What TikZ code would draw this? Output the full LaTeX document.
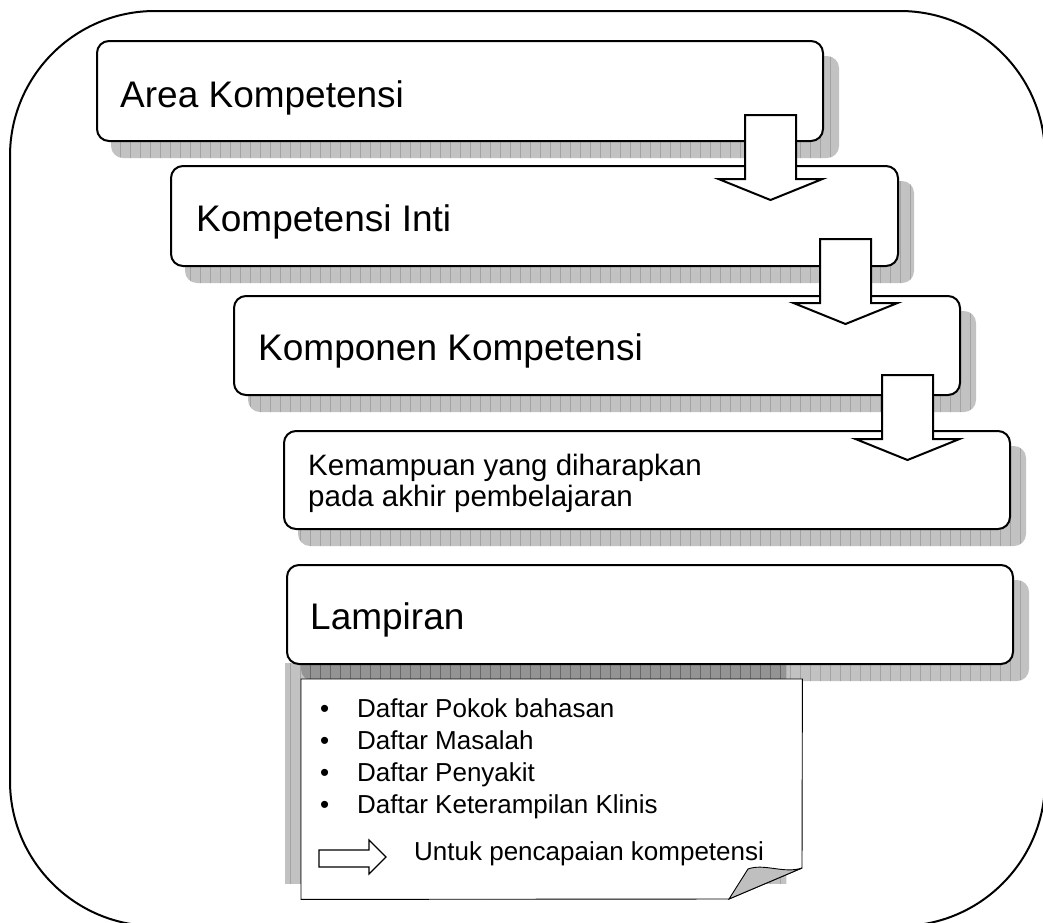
\documentclass[tikz,border=0pt]{standalone}
\usepackage{fontspec}
\setmainfont{Liberation Sans}
\usetikzlibrary{backgrounds}
\tikzset{
  box/.style={draw=black, line width=2pt, fill=white, rounded corners=12pt, inner sep=0pt, anchor=north west},
  bigtext/.style={inner sep=0pt, anchor=base west, font=\fontsize{37}{44}\selectfont},
  midtext/.style={inner sep=0pt, anchor=base west, font=\fontsize{29.5}{36}\selectfont},
  smalltext/.style={inner sep=0pt, anchor=base west, font=\fontsize{26}{31}\selectfont},
  blockarrow/.style={draw=black, line width=2pt, fill=white, line join=miter},
  gridlines/.style={draw=black, draw opacity=0.16, line width=0.9pt}
}
\newcommand\shadowof[4]{% node, dx, dy, radius
  \begin{scope}
    \clip[rounded corners=#4] ([shift={(#2,#3)}]#1.north west) rectangle ([shift={(#2,#3)}]#1.south east);
    \fill[black, fill opacity=0.24] (0,0) rectangle (1043,922);
    \draw[gridlines, step=10] (0,0) grid (1043,922);
  \end{scope}}
\newcommand\blockdown[2]{%
  \draw[blockarrow, shift={(#1,#2)}] (-25.5,0) -- (25.5,0) -- (25.5,64) -- (52,64) -- (0,85) -- (-52,64) -- (-25.5,64) -- cycle;}
\begin{document}
\begin{tikzpicture}[x=1pt,y=-1pt]
\useasboundingbox (0,0) rectangle (1043,922);
\begin{scope}
  \clip (0,0) rectangle (1043,922);
  \draw[line width=2pt, rounded corners=145pt] (10,11) rectangle (1045,926);
\end{scope}

% boxes
\node[box, minimum width=726pt, minimum height=100pt] (b1) at (96,40) {};
\node[box, minimum width=727pt, minimum height=100pt] (b2) at (170,165) {};
\node[box, minimum width=726pt, minimum height=99pt] (b3) at (233,295) {};
\node[box, minimum width=726pt, minimum height=98pt] (b4) at (283,430) {};
\node[box, minimum width=726pt, minimum height=99pt] (b5) at (286,564) {};

% note
\node[inner sep=0pt, minimum width=501pt, minimum height=220pt, anchor=north west] (note) at (301,679) {};
\draw[line width=0.9pt, fill=white] (note.north west) -- (note.north east) -- (802,868) -- (729,899) -- (note.south west) -- cycle;
\draw[line width=0.9pt, fill=black!25] (729,899) -- (748,869) .. controls (764,863) and (784,874) .. (802,868) -- cycle;

\begin{scope}[on background layer]
  \shadowof{b1}{15}{16}{12pt}
  \shadowof{b2}{15}{16}{12pt}
  \shadowof{b3}{15}{16}{12pt}
  \shadowof{b4}{15}{16}{12pt}
  \shadowof{b5}{15}{16}{12pt}
  \shadowof{note}{-16}{-16}{0pt}
\end{scope}

% texts
\node[bigtext] (t1) at (120,107) {Area Kompetensi};
\node[bigtext] (t2) at (196,231) {Kompetensi Inti};
\node[bigtext] (t3) at (258,360) {Komponen Kompetensi};
\node[midtext] (t4a) at (308,475) {Kemampuan yang diharapkan};
\node[midtext] (t4b) at (308,506) {pada akhir pembelajaran};
\node[bigtext] (t5) at (310,629) {Lampiran};

\foreach \y/\txt [count=\i] in {717/Daftar Pokok bahasan, 749/Daftar Masalah, 781/Daftar Penyakit, 813/Daftar Keterampilan Klinis}{
  \node[smalltext] (bul\i) at (320,\y) {•};
  \node[smalltext] (item\i) at (357,\y) {\txt};
}
\node[smalltext] (untuk) at (414,860) {Untuk pencapaian kompetensi};
\draw[line width=1.2pt, fill=white, line join=miter] (319,850) -- (369,850) -- (369,840) -- (386,857) -- (369,874) -- (369,867) -- (319,867) -- cycle;

% block arrows
\blockdown{770.5}{115}
\blockdown{845.5}{239}
\blockdown{907.5}{375}
\end{tikzpicture}
\end{document}
